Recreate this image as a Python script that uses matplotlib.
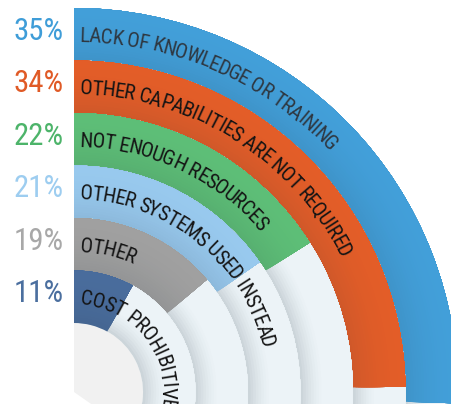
import numpy as np
import matplotlib
matplotlib.use("Agg")
import matplotlib.pyplot as plt
from matplotlib import font_manager
from matplotlib.font_manager import FontProperties, findfont, get_font
from matplotlib.colors import to_rgb

# ---- data ----
labels = ["LACK OF KNOWLEDGE OR TRAINING",
          "OTHER CAPABILITIES ARE NOT REQUIRED",
          "NOT ENOUGH RESOURCES",
          "OTHER SYSTEMS USED INSTEAD",
          "OTHER",
          "COST PROHIBITIVE"]
values = [35, 34, 22, 21, 19, 11]
pct_labels = ["35%", "34%", "22%", "21%", "19%", "11%"]
bar_colors = ["#429FD9", "#E35D28", "#5DBE77", "#98C9EE", "#A0A0A0", "#496C9C"]
pct_colors = ["#3F9DD8", "#E05A26", "#4DB46A", "#9DCDF0", "#A8A8A8", "#4B6F9F"]
text_colors = ["#2E3740", "#141414", "#141414", "#141414", "#141414", "#141414"]

# ---- geometry / style ----
W, H, DPI = 452, 404, 100
CX, CY = 74, 392          # centre in pixels (from top-left)
RMAX = 400
R_IN = 69
RING = 52.5
DEG_PER_PCT = 2.62
TRACK_END = np.radians(125)
START = 6.0
TRACKING = 0.93

fig = plt.figure(figsize=(W / DPI, H / DPI), dpi=DPI)
fig.patch.set_facecolor("white")
ax = fig.add_axes([(CX - RMAX) / W, (H - CY - RMAX) / H, 2 * RMAX / W, 2 * RMAX / H],
                  projection="polar")
ax.set_theta_zero_location("N")
ax.set_theta_direction(-1)
ax.set_ylim(0, RMAX)
ax.set_axis_off()

# font choice
names = {f.name for f in font_manager.fontManager.ttflist}
if "Liberation Sans Narrow" in names:
    fam, stretch = "Liberation Sans Narrow", "normal"
elif "Roboto Condensed" in names:
    fam, stretch = "Roboto Condensed", "normal"
else:
    fam, stretch = "DejaVu Sans", "condensed"


def advances(text, fp, track=TRACKING):
    font = get_font(findfont(fp))
    font.set_size(fp.get_size_in_points(), DPI)
    return [font.load_char(ord(c)).linearHoriAdvance / 65536.0 * track for c in text]


# fit ring-label font size so that the first label spans its measured arc
fp_ring = FontProperties(family=fam, stretch=stretch, size=13.5)
w0 = sum(advances(labels[0], fp_ring))
ring_size = 13.5 * 280.0 / w0
fp_ring = FontProperties(family=fam, stretch=stretch, size=ring_size)

# fit percentage font size to roughly the width of "35%"
fp_pct = FontProperties(family=fam, stretch=stretch, size=20)
wp = sum(advances(pct_labels[0], fp_pct, 1.0))
fp_pct = FontProperties(family=fam, stretch=stretch, size=20 * 50.0 / wp)


def mix(c1, c2, t):
    a, b = np.array(to_rgb(c1)), np.array(to_rgb(c2))
    return tuple(a * (1 - t) + b * t)


def grad_bar(theta_end, r0, r1, base, dark, shape):
    # stacked, overlapping bands (inner to outer) -> smooth, seam-free gradient
    n = 20
    h = (r1 - r0) / n
    bottoms = r0 + h * np.arange(n)
    cols = [mix(base, dark, shape((k + 0.5) / n)) for k in range(n)]
    ax.bar(np.zeros(n), r1 - bottoms, width=theta_end, bottom=bottoms,
           align="edge", color=cols, linewidth=0)


# inner disk
ax.bar(0, R_IN, width=TRACK_END, bottom=0, align="edge",
       color="#F1F1F1", linewidth=0)

n_r = len(values)
for i in range(n_r):
    inner = R_IN + (n_r - 1 - i) * RING
    outer = inner + RING
    # background track with shadow at inner edge
    grad_bar(TRACK_END, inner, outer, "#ECF3F7", "#C9D2D7",
             lambda t: max(0.0, 1 - t / 0.45) ** 1.6)
    # coloured bar
    th_end = np.radians(values[i] * DEG_PER_PCT)
    grad_bar(th_end, inner, outer, bar_colors[i], "#1F2A33",
             lambda t: 0.10 * (1 - t) ** 2)

    # curved label
    em = ring_size * DPI / 72.0
    r_base = (inner + outer) / 2 - 0.36 * em
    s = START
    for c, a in zip(labels[i], advances(labels[i], fp_ring)):
        th = (s + a / 2) / r_base
        if c != " ":
            ax.text(th, r_base, c, rotation=-np.degrees(th), rotation_mode="anchor",
                    ha="center", va="baseline", fontproperties=fp_ring,
                    color=text_colors[i])
        s += a

    # percentage on the left
    dx, dy = -10.0, (inner + outer) / 2 + 3
    ax.text(np.arctan2(dx, dy), np.hypot(dx, dy), pct_labels[i], ha="right",
            va="center", fontproperties=fp_pct, color=pct_colors[i], clip_on=False)

fig.savefig("out.png", dpi=DPI)
